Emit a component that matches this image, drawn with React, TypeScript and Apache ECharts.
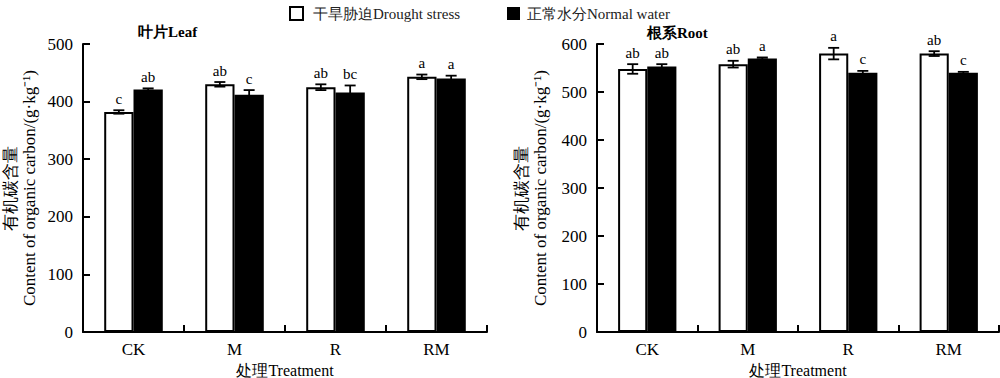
import React, { useEffect, useRef } from "react";
import * as echarts from "echarts";

const categories = ["CK", "M", "R", "RM"];
const seriesNames = ["干旱胁迫Drought stress", "正常水分Normal water"];
const yNameCn = "有机碳含量";
const yNameEn = "Content of organic carbon/(g·kg⁻¹)";

const leafDrought = [382, 430, 425, 443];
const leafDroughtErr = [3, 4, 5, 4];
const leafNormal = [421, 412, 416, 440];
const leafNormalErr = [2, 8, 12, 5];
const leafDroughtLetters = ["c", "ab", "ab", "a"];
const leafNormalLetters = ["ab", "c", "bc", "a"];

const rootDrought = [548, 558, 580, 580];
const rootDroughtErr = [10, 7, 12, 5];
const rootNormal = [553, 570, 540, 540];
const rootNormalErr = [5, 2, 4, 2];
const rootDroughtLetters = ["ab", "ab", "a", "ab"];
const rootNormalLetters = ["ab", "a", "c", "c"];

const FONT = "Liberation Serif";
const BAR_FRAC = 0.29;

function errSeries(
  values: number[],
  errs: number[],
  letters: string[],
  sign: number,
  axisIndex: number
) {
  return {
    type: "custom",
    xAxisIndex: axisIndex,
    yAxisIndex: axisIndex,
    z: 10,
    silent: true,
    data: values.map((v, i) => [i, v, errs[i]]),
    renderItem: (params: any, api: any) => {
      const x = api.value(0);
      const mean = api.value(1);
      const err = api.value(2);
      const band = api.size([1, 0])[0];
      const off = sign * band * BAR_FRAC * 0.5;
      const top = api.coord([x, mean + err]);
      const bot = api.coord([x, mean - err]);
      const cx = top[0] + off;
      const cap = 5.5;
      const st = { stroke: "#000", lineWidth: 1.8 };
      return {
        type: "group",
        children: [
          { type: "line", shape: { x1: cx, y1: top[1], x2: cx, y2: bot[1] }, style: st },
          { type: "line", shape: { x1: cx - cap, y1: top[1], x2: cx + cap, y2: top[1] }, style: st },
          { type: "line", shape: { x1: cx - cap, y1: bot[1], x2: cx + cap, y2: bot[1] }, style: st },
          {
            type: "text",
            x: cx,
            y: top[1] - 4,
            style: {
              text: letters[params.dataIndex],
              fill: "#000",
              fontSize: 15,
              fontFamily: FONT,
              align: "center",
              verticalAlign: "bottom",
            },
          },
        ],
      };
    },
  };
}

function barSeries(name: string, values: number[], white: boolean, axisIndex: number) {
  return {
    type: "bar",
    name,
    xAxisIndex: axisIndex,
    yAxisIndex: axisIndex,
    data: values,
    barWidth: `${BAR_FRAC * 100}%`,
    barGap: "0%",
    itemStyle: white
      ? { color: "#fff", borderColor: "#000", borderWidth: 2 }
      : { color: "#000", borderColor: "#000", borderWidth: 0 },
  };
}

const axisLineStyle = { show: true, lineStyle: { color: "#000", width: 2 } };
const tickStyle = { show: true, inside: true, length: 7, lineStyle: { color: "#000", width: 2 } };
const labelStyle = { color: "#000", fontSize: 17, fontFamily: FONT, margin: 10 };

function xAxis(gridIndex: number) {
  return {
    type: "category",
    gridIndex,
    data: categories,
    axisLine: axisLineStyle,
    axisTick: tickStyle,
    axisLabel: { ...labelStyle, margin: 9 },
    name: "处理Treatment",
    nameLocation: "middle",
    nameGap: 27,
    nameTextStyle: { color: "#000", fontSize: 16, fontFamily: FONT },
  };
}

function yAxis(gridIndex: number, max: number) {
  return {
    type: "value",
    gridIndex,
    min: 0,
    max,
    interval: 100,
    splitLine: { show: false },
    axisLine: axisLineStyle,
    axisTick: tickStyle,
    axisLabel: labelStyle,
  };
}

function yName(xCn: number, xEn: number, yc: number) {
  const base = { fill: "#000", fontSize: 17, fontFamily: FONT, align: "center", verticalAlign: "middle" };
  return [
    { type: "text", x: xCn, y: yc, rotation: Math.PI / 2, style: { ...base, text: yNameCn } },
    { type: "text", x: xEn, y: yc, rotation: Math.PI / 2, style: { ...base, text: yNameEn } },
  ];
}

export default function App() {
  const ref = useRef<HTMLDivElement>(null);
  useEffect(() => {
    if (!ref.current) return;
    const chart = echarts.init(ref.current, undefined, { renderer: "svg" });
    chart.setOption({
      animation: false,
      backgroundColor: "#fff",
      textStyle: { fontFamily: FONT },
      title: [
        {
          text: "叶片Leaf",
          left: 138,
          top: 24,
          padding: 0,
          textStyle: { fontSize: 15, fontWeight: "bold", color: "#000", fontFamily: FONT },
        },
        {
          text: "根系Root",
          left: 647,
          top: 25,
          padding: 0,
          textStyle: { fontSize: 15, fontWeight: "bold", color: "#000", fontFamily: FONT },
        },
      ],
      legend: [
        {
          data: [seriesNames[0]],
          left: 289,
          top: 6,
          padding: 0,
          icon: "rect",
          itemWidth: 13,
          itemHeight: 13,
          itemStyle: { borderColor: "#000", borderWidth: 2 },
          textStyle: { fontSize: 15, color: "#222", fontFamily: FONT, padding: [0, 0, 0, 5] },
        },
        {
          data: [seriesNames[1]],
          left: 507,
          top: 6,
          padding: 0,
          icon: "rect",
          itemWidth: 13,
          itemHeight: 13,
          textStyle: { fontSize: 15, color: "#222", fontFamily: FONT, padding: [0, 0, 0, 2] },
        },
      ],
      grid: [
        { left: 83, top: 44, width: 404, height: 288, outerBoundsMode: "none" },
        { left: 597, top: 44, width: 402, height: 288, outerBoundsMode: "none" },
      ],
      xAxis: [xAxis(0), xAxis(1)],
      yAxis: [yAxis(0, 500), yAxis(1, 600)],
      graphic: [...yName(10, 29, 188), ...yName(521, 540, 188)],
      series: [
        barSeries(seriesNames[0], leafDrought, true, 0),
        barSeries(seriesNames[1], leafNormal, false, 0),
        barSeries(seriesNames[0], rootDrought, true, 1),
        barSeries(seriesNames[1], rootNormal, false, 1),
        errSeries(leafDrought, leafDroughtErr, leafDroughtLetters, -1, 0),
        errSeries(leafNormal, leafNormalErr, leafNormalLetters, 1, 0),
        errSeries(rootDrought, rootDroughtErr, rootDroughtLetters, -1, 1),
        errSeries(rootNormal, rootNormalErr, rootNormalLetters, 1, 1),
      ],
    });
    return () => chart.dispose();
  }, []);
  return (
    <div
      ref={ref}
      style={{ position: "absolute", left: 0, top: 0, width: 1000, height: 378, background: "#fff" }}
    />
  );
}
